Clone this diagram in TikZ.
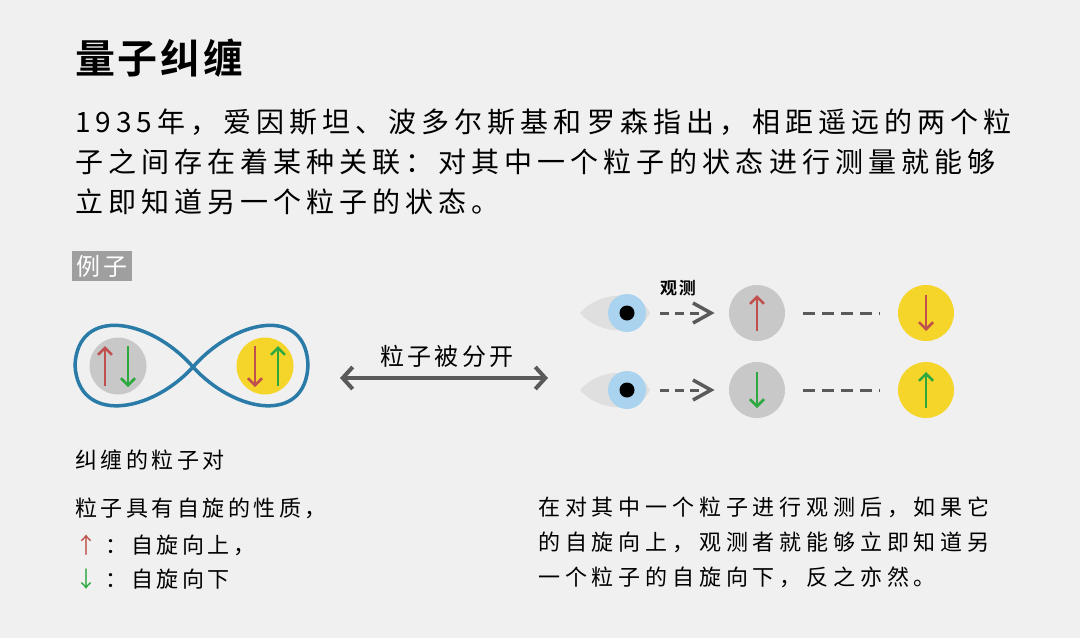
\documentclass[tikz,border=0pt]{standalone}
\usepackage{fontspec}
\setmainfont{Noto Sans CJK SC}
\newfontfamily\cjkbold{Noto Sans CJK SC Bold}
\usetikzlibrary{arrows.meta,positioning}
\definecolor{bg}{HTML}{F0F0F0}
\definecolor{loopblue}{HTML}{2A7BA8}
\definecolor{spinred}{HTML}{C0504D}
\definecolor{spingreen}{HTML}{2DA940}
\definecolor{ballgray}{HTML}{C8C8C8}
\definecolor{ballyellow}{HTML}{F5D52A}
\definecolor{darkgray}{HTML}{5A5A5A}
\definecolor{irisblue}{HTML}{A9D3EE}
\tikzset{
  txt/.style={anchor=west, inner sep=0pt, font=\fontsize{28}{28}\selectfont\addfontfeature{LetterSpace=18}},
  small/.style={anchor=west, inner sep=0pt, font=\fontsize{22}{22}\selectfont\addfontfeature{LetterSpace=16}},
  wide/.style={anchor=west, inner sep=0pt, font=\fontsize{22}{22}\selectfont\addfontfeature{LetterSpace=22}},
  spin/.style={line width=2.5pt, -{Straight Barb[length=7pt,width=14pt]}},
  ball/.style={circle, minimum size=57pt, inner sep=0pt},
}
\begin{document}
\begin{tikzpicture}[x=1pt,y=-1pt]
\fill[bg] (0,0) rectangle (1080,638);
\useasboundingbox (0,0) rectangle (1080,638);

% title and text
\node (title) [anchor=west, inner sep=0pt, font=\cjkbold\fontsize{40}{40}\selectfont\addfontfeature{LetterSpace=7}] at (75,58) {量子纠缠};
\node (l1) [txt] at (75,122) {1935年，爱因斯坦、波多尔斯基和罗森指出，相距遥远的两个粒};
\node (l2) [txt] at (75,162) {子之间存在着某种关联：对其中一个粒子的状态进行测量就能够};
\node (l3) [txt] at (75,202) {立即知道另一个粒子的状态。};

\node (ex) [anchor=west, fill=gray!75, text=white, inner sep=4pt, font=\fontsize{24}{24}\selectfont\addfontfeature{LetterSpace=14}] at (72,266) {例子};

% entangled pair
\draw [loopblue, line width=3.5pt] (193,367) .. controls (236,318) and (306,306) .. (308,365)
  .. controls (306,424) and (236,414) .. (193,367)
  .. controls (150,318) and (78,306) .. (75,365)
  .. controls (78,424) and (150,414) .. cycle;
\node (pa) [ball, fill=ballgray] at (118,366) {};
\node (pb) [ball, fill=ballyellow] at (265,366) {};
\draw [spin, spinred] (105,386) -- (105,346);
\draw [spin, spingreen] (128,346) -- (128,387);
\draw [spin, spinred] (255,346) -- (255,387);
\draw [spin, spingreen] (278,386) -- (278,346);

\coordinate (sl) at (340,378);
\coordinate (sr) at (548,378);
\draw [darkgray, line width=4pt, {Straight Barb[length=10pt,width=22pt]}-{Straight Barb[length=10pt,width=22pt]}] (sl) -- (sr);
\node (sep) [inner sep=0pt, font=\fontsize{24}{24}\selectfont\addfontfeature{LetterSpace=14}] at (447,356) {粒子被分开};

% observers
\foreach \y/\c/\a/\b in {313/spinred/1/-1, 390/spingreen/-1/1} {
  \fill [gray!25] (580,\y) .. controls (600,\y-23) and (640,\y-23) .. (650,\y)
    .. controls (640,\y+23) and (600,\y+23) .. cycle;
  \fill [irisblue] (627,\y) circle (19);
  \fill [black] (627,\y) circle (7.5);
  \draw [darkgray, line width=3pt, dash pattern=on 9pt off 6pt] (660,\y) -- (700,\y);
  \draw [darkgray, line width=3.5pt] (693,\y-10) -- (711,\y) -- (693,\y+10);
  \fill [ballgray] (757,\y) circle (28);
  \draw [spin, \c] (757,\y+18*\a) -- (757,\y-18*\a);
  \draw [darkgray, line width=3pt, dash pattern=on 12pt off 7pt] (803,\y) -- (880,\y);
  \fill [ballyellow] (926,\y) circle (28);
  \draw [spin, \c] (926,\y+18*\b) -- (926,\y-18*\b);
}
\node (obs) [inner sep=0pt, font=\cjkbold\fontsize{17}{17}\selectfont\addfontfeature{LetterSpace=10}] at (678,288) {观测};

% captions
\node (c1) [small] at (75,460) {纠缠的粒子对};
\node (c2) [small] at (75,508) {粒子具有自旋的性质，};
\node (c3) [small] at (75,545) {\textcolor{spinred}{↑} ：自旋向上，};
\node (c4) [small] at (75,579) {\textcolor{spingreen}{↓} ：自旋向下};
\node (r1) [wide] at (538,507) {在对其中一个粒子进行观测后，如果它};
\node (r2) [wide] at (538,542) {的自旋向上，观测者就能够立即知道另};
\node (r3) [wide] at (538,577) {一个粒子的自旋向下，反之亦然。};
\end{tikzpicture}
\end{document}
